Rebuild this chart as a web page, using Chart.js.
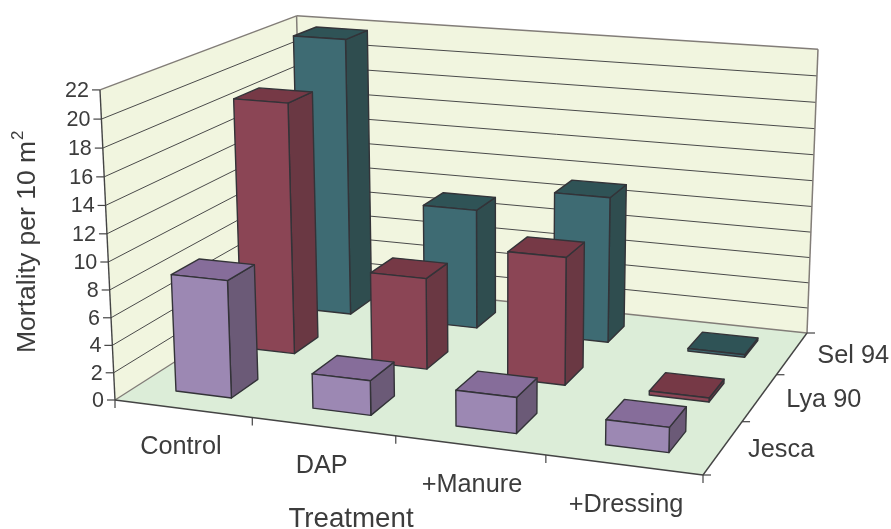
<!DOCTYPE html>
<html>
<head>
<meta charset="utf-8">
<title>Mortality per treatment</title>
<script src="https://cdn.jsdelivr.net/npm/chart.js@4"></script>
<style>
    html, body { margin: 0; background: #fff; }
    canvas { display: block; }
</style>
</head>
<body>
<canvas id="chart" width="891" height="529"></canvas>
<script>
const treatments = ["Control", "DAP", "+Manure", "+Dressing"];
const seriesNames = ["Jesca", "Lya 90", "Sel 94"];

const jesca = [8.55, 2.5, 2.55, 1.75];
const lya90 = [18.95, 6.85, 9.45, 0.3];
const sel94 = [21.8, 9.35, 11.25, 0.2];

// colours per series: front, top, side
const frontColors = ["#9C88B3", "#8B4555", "#3E6B73"];
const topColors = ["#866D9A", "#763946", "#2F5356"];
const sideColors = ["#6B5A77", "#6A3843", "#2F4D4F"];

// floor corners on the page, and where the verticals meet
const floorA = [115, 400], floorB = [703, 475], floorC = [807, 333], floorD = [303, 280];
const vanish = [498, 8315];
const liftK = -0.0377;

const barDepth = 0.135;
const treatmentLabelShift = [[-2, 38], [-1.5, 39], [2, 40], [2.5, 40]];
const seriesLabelShift = [58, 64, 61];
const textColor = "#3c3c3c";
const fontName = '"Liberation Sans", Arial, sans-serif';

// unit square to floor quad
function makeFloor() {
    const sx = floorA[0] - floorB[0] + floorC[0] - floorD[0];
    const sy = floorA[1] - floorB[1] + floorC[1] - floorD[1];
    const dx1 = floorB[0] - floorC[0], dx2 = floorD[0] - floorC[0];
    const dy1 = floorB[1] - floorC[1], dy2 = floorD[1] - floorC[1];
    const den = dx1 * dy2 - dx2 * dy1;
    const g = (sx * dy2 - dx2 * sy) / den;
    const h = (dx1 * sy - sx * dy1) / den;
    return {
        a: floorB[0] - floorA[0] + g * floorB[0],
        b: floorD[0] - floorA[0] + h * floorD[0],
        c: floorA[0],
        d: floorB[1] - floorA[1] + g * floorB[1],
        e: floorD[1] - floorA[1] + h * floorD[1],
        f: floorA[1],
        g: g,
        h: h
    };
}
const floor = makeFloor();

// u along treatments, v along series, w up, all 0..1
function project(u, v, w) {
    const q = floor.g * u + floor.h * v + 1 + w * liftK;
    return [
        (floor.a * u + floor.b * v + floor.c + w * liftK * vanish[0]) / q,
        (floor.d * u + floor.e * v + floor.f + w * liftK * vanish[1]) / q
    ];
}

function poly(ctx, pts, fill, stroke, lineWidth) {
    ctx.beginPath();
    pts.forEach((p, i) => (i ? ctx.lineTo(p[0], p[1]) : ctx.moveTo(p[0], p[1])));
    ctx.closePath();
    if (fill) {
        ctx.fillStyle = fill;
        ctx.fill();
    }
    if (stroke) {
        ctx.strokeStyle = stroke;
        ctx.lineWidth = lineWidth;
        ctx.stroke();
    }
}

function line(ctx, p, q, color, lineWidth) {
    ctx.beginPath();
    ctx.moveTo(p[0], p[1]);
    ctx.lineTo(q[0], q[1]);
    ctx.strokeStyle = color;
    ctx.lineWidth = lineWidth;
    ctx.stroke();
}

function label(ctx, text, x, y, size) {
    ctx.font = size + "px " + fontName;
    ctx.fillStyle = textColor;
    ctx.textAlign = "center";
    ctx.textBaseline = "middle";
    ctx.fillText(text, x, y);
}

function drawWalls(ctx, yScale, area) {
    poly(ctx, [project(0, 0, 0), project(0, 1, 0), project(0, 1, 1), project(0, 0, 1)], "#F1F5DF");
    poly(ctx, [project(0, 1, 0), project(1, 1, 0), project(1, 1, 1), project(0, 1, 1)], "#F1F5DF");
    poly(ctx, [project(0, 0, 0), project(1, 0, 0), project(1, 1, 0), project(0, 1, 0)], "#DCEDD8");

    yScale.ticks.forEach((tick) => {
        const w = (area.bottom - yScale.getPixelForValue(tick.value)) / area.height;
        const front = project(0, 0, w);
        if (tick.value > 0 && tick.value < yScale.max) {
            line(ctx, front, project(0, 1, w), "#4a4a4a", 1);
            line(ctx, project(0, 1, w), project(1, 1, w), "#4a4a4a", 1);
        }
        line(ctx, front, [front[0] - 8, front[1]], "#444", 1.2);
        ctx.font = "21.5px " + fontName;
        ctx.fillStyle = textColor;
        ctx.textAlign = "right";
        ctx.textBaseline = "middle";
        ctx.fillText(String(tick.value), front[0] - 11, front[1] + 1);
    });

    const wallEdge = "#827d78";
    line(ctx, project(0, 1, 0), project(0, 1, 1), wallEdge, 1.5);
    line(ctx, project(0, 0, 1), project(0, 1, 1), wallEdge, 1.5);
    line(ctx, project(0, 1, 1), project(1, 1, 1), wallEdge, 1.5);
    line(ctx, project(1, 1, 1), project(1, 1, 0), wallEdge, 1.5);
    line(ctx, project(0, 0, 0), project(0, 1, 0), wallEdge, 1.4);
    line(ctx, project(0, 1, 0), project(1, 1, 0), wallEdge, 1.4);
}

function drawAxes(ctx, xScale, zScale, area) {
    line(ctx, project(0, 0, 0), project(0, 0, 1), "#444", 1.4);
    line(ctx, project(0, 0, 0), project(1, 0, 0), "#444", 1.4);
    line(ctx, project(1, 0, 0), project(1, 1, 0), "#444", 1.4);

    treatments.forEach((name, i) => {
        const u0 = i / treatments.length;
        const tick = project(u0, 0, 0);
        line(ctx, tick, [tick[0], tick[1] + 8], "#444", 1.2);
        const u = (xScale.getPixelForValue(i) - area.left) / area.width;
        const at = project(u, 0, 0);
        label(ctx, name, at[0] + treatmentLabelShift[i][0], at[1] + treatmentLabelShift[i][1], 25.3);
    });
    const lastTick = project(1, 0, 0);
    line(ctx, lastTick, [lastTick[0], lastTick[1] + 8], "#444", 1.2);

    seriesNames.forEach((name, i) => {
        const v0 = i / seriesNames.length;
        const tick = project(1, v0, 0);
        line(ctx, tick, [tick[0] + 8, tick[1]], "#444", 1.2);
        const v = (zScale.getPixelForValue(i) - area.left) / area.width;
        const at = project(1, v, 0);
        label(ctx, name, at[0] + seriesLabelShift[i], at[1] + 3, 25.3);
    });
    const backTick = project(1, 1, 0);
    line(ctx, backTick, [backTick[0] + 8, backTick[1]], "#444", 1.2);

    label(ctx, "Treatment", 351, 519, 27.7);

    // y title with the squared unit
    ctx.save();
    ctx.translate(28, 353);
    ctx.rotate(-Math.PI / 2);
    ctx.font = "26.5px " + fontName;
    ctx.fillStyle = textColor;
    ctx.textAlign = "left";
    ctx.textBaseline = "middle";
    const main = "Mortality per 10 m";
    ctx.fillText(main, 0, 0);
    const used = ctx.measureText(main).width;
    ctx.font = "17px " + fontName;
    ctx.fillText("2", used + 1, -10);
    ctx.restore();
}

function drawBar(ctx, u0, u1, v0, v1, wBase, wTop, colorIndex) {
    const edge = "#333338";
    poly(ctx, [project(u1, v0, wBase), project(u1, v1, wBase), project(u1, v1, wTop), project(u1, v0, wTop)],
        sideColors[colorIndex], edge, 1.4);
    poly(ctx, [project(u0, v0, wTop), project(u1, v0, wTop), project(u1, v1, wTop), project(u0, v1, wTop)],
        topColors[colorIndex], edge, 1.4);
    poly(ctx, [project(u0, v0, wBase), project(u1, v0, wBase), project(u1, v0, wTop), project(u0, v0, wTop)],
        frontColors[colorIndex], edge, 1.4);
}

const bars3d = {
    id: "bars3d",
    // the flat bars only give the positions, the boxes are painted here
    beforeDatasetsDraw(chart) {
        const ctx = chart.ctx;
        const area = chart.chartArea;
        const zScale = chart.scales.z;
        ctx.save();
        ctx.lineJoin = "round";
        drawWalls(ctx, chart.scales.y, area);
        drawAxes(ctx, chart.scales.x, zScale, area);
        for (let s = chart.data.datasets.length - 1; s >= 0; s--) {
            const v = (zScale.getPixelForValue(s) - area.left) / area.width;
            chart.getDatasetMeta(s).data.forEach((bar) => {
                const u = (bar.x - area.left) / area.width;
                const half = bar.width / 2 / area.width;
                const wTop = (area.bottom - bar.y) / area.height;
                const wBase = (area.bottom - bar.base) / area.height;
                drawBar(ctx, u - half, u + half, v - barDepth / 2, v + barDepth / 2, wBase, wTop, s);
            });
        }
        ctx.restore();
        return false;
    }
};

new Chart(document.getElementById("chart"), {
    type: "bar",
    data: {
        labels: treatments,
        datasets: [
            { label: seriesNames[0], data: jesca, backgroundColor: frontColors[0] },
            { label: seriesNames[1], data: lya90, backgroundColor: frontColors[1] },
            { label: seriesNames[2], data: sel94, backgroundColor: frontColors[2] }
        ]
    },
    options: {
        responsive: false,
        animation: false,
        grouped: false,
        barPercentage: 0.41,
        categoryPercentage: 1,
        layout: { padding: 0 },
        plugins: { legend: { display: false }, tooltip: { enabled: false } },
        scales: {
            x: { display: false, offset: true },
            y: { display: false, min: 0, max: 22, ticks: { stepSize: 2 } },
            z: { type: "category", axis: "x", position: "bottom", display: false, labels: seriesNames, offset: true }
        }
    },
    plugins: [bars3d]
});
</script>
</body>
</html>
